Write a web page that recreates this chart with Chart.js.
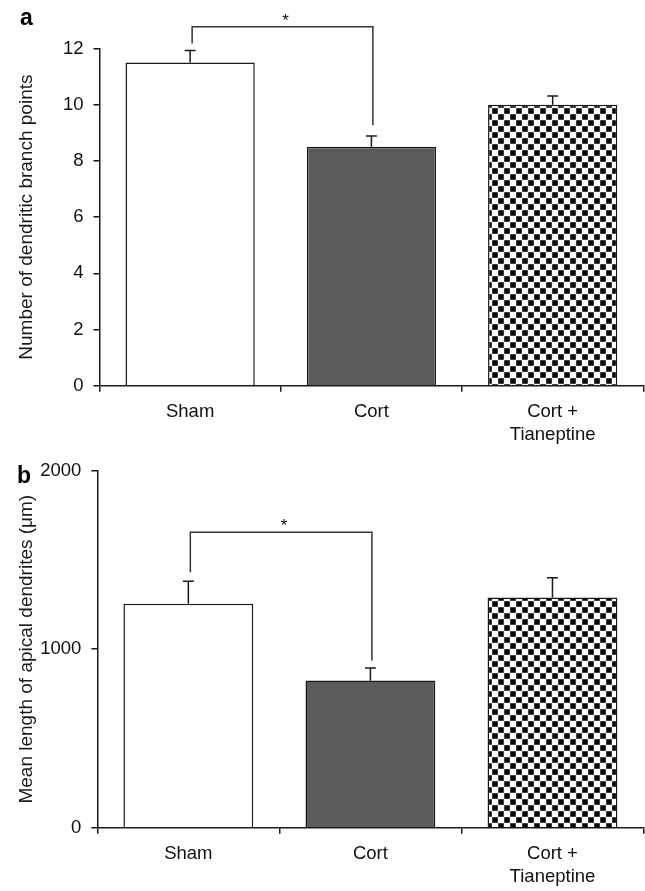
<!DOCTYPE html>
<html>
<head>
<meta charset="utf-8">
<script src="https://cdn.jsdelivr.net/npm/chart.js@4.4.1/dist/chart.umd.min.js"></script>
<style>
html,body{margin:0;padding:0;background:#fff;}
#wrap{position:relative;width:645px;height:891px;overflow:hidden;background:#fff;}
#c1{position:absolute;left:0;top:0;}
#c2{position:absolute;left:0;top:445px;}
</style>
</head>
<body>
<div id="wrap">
<canvas id="c1" width="645" height="445"></canvas>
<canvas id="c2" width="645" height="446"></canvas>
</div>
<script>
// ---- data ----
const categories = ['Sham', 'Cort', ['Cort +', 'Tianeptine']];
const branchMeans = [11.5, 8.5, 10.0];
const branchSem = [0.43, 0.39, 0.31];
const branchBracket = [12.77, 12.18, 9.27]; // level, left leg end, right leg end
const branchTicks = [0, 12, 2]; // min, max, step
const lengthMeans = [1255, 825, 1290];
const lengthSem = [125, 70, 110];
const lengthBracket = [1655, 1431, 936];
const lengthTicks = [0, 2000, 1000];
const branchTitle = 'Number of dendritic branch points';
const lengthTitle = 'Mean length of apical dendrites (\u03bcm)';

const FONT = "'Liberation Sans', Arial, Helvetica, sans-serif";

function checker() {
  const c = document.createElement('canvas');
  c.width = 12; c.height = 12;
  const x = c.getContext('2d');
  x.fillStyle = '#ffffff'; x.fillRect(0, 0, 12, 12);
  x.fillStyle = '#777'; x.fillRect(0, 0, 6, 6); x.fillRect(6, 6, 6, 6);
  x.fillStyle = '#050505'; x.fillRect(0.5, 0.5, 5, 5); x.fillRect(6.5, 6.5, 5, 5);
  return x.createPattern(c, 'repeat');
}

const annot = {
  id: 'annot',
  afterDatasetsDraw(chart, args, opts) {
    const ctx = chart.ctx;
    const y = chart.scales.y;
    const meta = chart.getDatasetMeta(0);
    const ds = chart.data.datasets[0];
    ctx.save();
    ctx.strokeStyle = '#1a1a1a';
    ctx.lineWidth = 1.5;
    meta.data.forEach((bar, i) => {
      const v = ds.data[i], e = opts.errors[i];
      const yt = y.getPixelForValue(v + e), yb = y.getPixelForValue(v);
      ctx.beginPath();
      ctx.moveTo(bar.x, yb); ctx.lineTo(bar.x, yt);
      ctx.moveTo(bar.x - 5.5, yt); ctx.lineTo(bar.x + 5.5, yt);
      ctx.stroke();
    });
    const b = opts.bracket;
    const x1 = meta.data[0].x + 2, x2 = meta.data[1].x + 1.5;
    const yl = y.getPixelForValue(b[0]);
    ctx.strokeStyle = '#333';
    ctx.beginPath();
    ctx.moveTo(x1, y.getPixelForValue(b[1]));
    ctx.lineTo(x1, yl); ctx.lineTo(x2, yl);
    ctx.lineTo(x2, y.getPixelForValue(b[2]));
    ctx.stroke();
    ctx.fillStyle = '#111';
    ctx.font = '17px ' + FONT;
    ctx.textAlign = 'center';
    ctx.textBaseline = 'alphabetic';
    ctx.fillText('*', (x1 + x2) / 2 + 3, yl - 1);
    ctx.font = 'bold 23px ' + FONT;
    ctx.textAlign = 'left';
    ctx.fillStyle = '#000';
    ctx.fillText(opts.letter, opts.lx, opts.ly);
    ctx.restore();
  }
};

function makeChart(id, means, sem, bracket, ticks, title, geo) {
  return new Chart(document.getElementById(id), {
    type: 'bar',
    data: {
      labels: categories,
      datasets: [{
        data: means,
        backgroundColor: ['#ffffff', '#5b5b5b', checker()],
        borderColor: '#1a1a1a',
        borderWidth: 1.5,
        barPercentage: 0.713,
        categoryPercentage: 1.0
      }]
    },
    options: {
      responsive: false,
      animation: false,
      events: [],
      layout: { padding: { top: geo.top, right: geo.right, left: 0, bottom: 0 } },
      plugins: {
        legend: { display: false },
        tooltip: { enabled: false },
        annot: { errors: sem, bracket: bracket, letter: geo.letter, lx: geo.lx, ly: geo.ly }
      },
      scales: {
        x: {
          z: 1,
          grid: { offset: true, drawOnChartArea: false, drawTicks: true, tickLength: 6, color: '#1a1a1a', lineWidth: 1.5 },
          border: { display: true, color: '#1a1a1a', width: 1.5 },
          ticks: { color: '#111', padding: 9, maxRotation: 0, autoSkip: false,
                   font: { family: FONT, size: 18.5, lineHeight: 1.24 } },
          afterFit: (s) => { s.height = geo.xh; }
        },
        y: {
          min: ticks[0], max: ticks[1],
          grid: { drawOnChartArea: false, drawTicks: true, tickLength: 6, color: '#1a1a1a', lineWidth: 1.5 },
          border: { display: true, color: '#1a1a1a', width: 1.5 },
          ticks: { stepSize: ticks[2], color: '#111', padding: 10,
                   callback: (v) => String(v),
                   font: { family: FONT, size: 18.5 } },
          title: { display: true, text: title, color: '#1a1a1a', padding: { top: 15, bottom: 0 },
                   font: { family: FONT, size: 19 } },
          afterFit: (s) => { s.width = geo.yw; }
        }
      }
    },
    plugins: [annot]
  });
}

makeChart('c1', branchMeans, branchSem, branchBracket, branchTicks, branchTitle,
  { top: 48.5, right: 1.7, xh: 59.3, yw: 99.5, letter: 'a', lx: 20, ly: 25 });
makeChart('c2', lengthMeans, lengthSem, lengthBracket, lengthTicks, lengthTitle,
  { top: 25.7, right: 1.5, xh: 63.3, yw: 97.3, letter: 'b', lx: 17, ly: 38 });
</script>
</body>
</html>
